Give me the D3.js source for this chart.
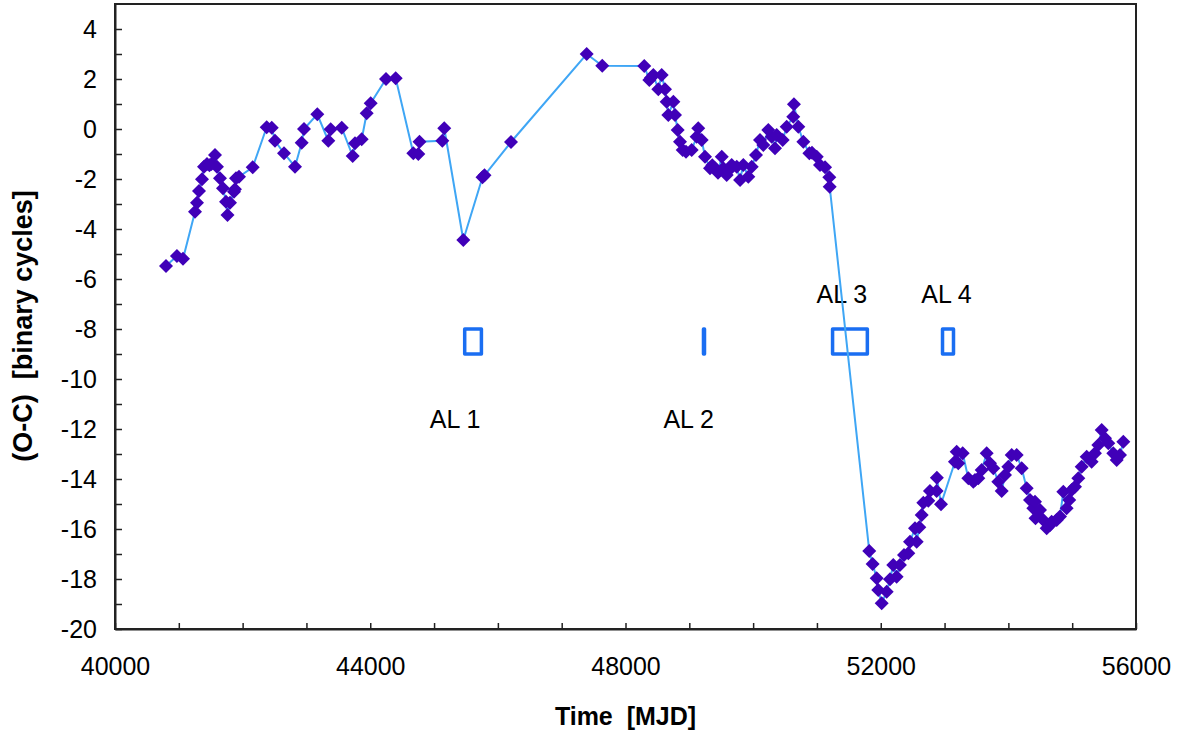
<!DOCTYPE html>
<html>
<head>
<meta charset="utf-8">
<script src="https://cdn.jsdelivr.net/npm/d3@7"></script>
<style>
  body { margin: 0; background: #fff; }
  svg text { font-family: "Liberation Sans", Arial, sans-serif; }
</style>
</head>
<body>
<svg id="chart" width="1188" height="735"></svg>
<script>
// O-C timing residuals, MJD vs binary cycles
const mjd = [
  40799, 40971, 41066, 41254, 41285, 41316, 41363, 41395, 41442, 41480, 41512,
  41567, 41598, 41645, 41692, 41740, 41763, 41802, 41865, 41880, 41896,
  41943, 42158, 42377, 42456, 42507, 42648, 42821, 42926, 42962, 43170,
  43343, 43380, 43553, 43725, 43761, 43866, 43944, 44007, 44247, 44399,
  44675, 44753, 44772, 45129, 45160, 45458, 45759, 45790, 46206, 47392,
  47636, 48294, 48373, 48400, 48436, 48514, 48567, 48619, 48645, 48671,
  48750, 48776, 48818, 48854, 48896, 48948, 49037, 49115, 49140, 49194,
  49246, 49324, 49360, 49403, 49450, 49508, 49533, 49586, 49620, 49664, 49743, 49795, 49846,
  49925, 49978, 50045, 50108, 50160, 50238, 50291, 50343, 50369, 50463,
  50526, 50629, 50640, 50708, 50787, 50881, 50923, 50997, 51048, 51127,
  51194, 51200, 51820, 51873, 51936, 51961, 52015, 52093, 52145, 52196,
  52249, 52301, 52364, 52432, 52458, 52537, 52563, 52604, 52642, 52667,
  52745, 52771, 52876, 52880, 52944, 53163, 53190, 53215, 53284, 53372,
  53451, 53477, 53529, 53582, 53660, 53712, 53764, 53842, 53895, 53947,
  53999, 54052, 54130, 54209, 54287, 54339, 54391, 54417, 54425, 54496,
  54547, 54600, 54650, 54678, 54757, 54809, 54861, 54913, 54954, 54992, 55044,
  55096, 55149, 55227, 55305, 55357, 55409, 55462, 55514, 55566, 55644,
  55697, 55749, 55801
];
const oc = [
  -5.48, -5.08, -5.19, -3.31, -2.95, -2.48, -2.01, -1.51, -1.40, -1.45, -1.40,
  -1.04, -1.51, -1.97, -2.37, -2.91, -3.44, -2.95, -2.51, -2.41, -1.97,
  -1.91, -1.53, 0.07, 0.05, -0.47, -0.97, -1.51, -0.55, 0.00, 0.59,
  -0.47, -0.01, 0.05, -1.08, -0.57, -0.41, 0.63, 1.03, 2.00, 2.03,
  -0.97, -1.00, -0.51, -0.47, 0.03, -4.44, -1.93, -1.85, -0.52, 3.00,
  2.53, 2.52, 1.96, 2.05, 2.16, 1.59, 2.16, 1.59, 1.09, 0.56,
  1.09, 0.56, -0.04, -0.51, -0.84, -0.91, -0.84, -0.31, 0.03, -0.44,
  -1.11, -1.57, -1.45, -1.57, -1.75, -1.11, -1.57, -1.84, -1.65, -1.44, -1.51, -2.04, -1.44,
  -1.91, -1.51, -1.04, -0.44, -0.64, -0.04, -0.31, -0.77, -0.24, -0.44,
  0.09, 0.49, 0.99, 0.09, -0.51, -0.97, -0.95, -1.11, -1.44, -1.53,
  -1.93, -2.31, -16.88, -17.40, -17.97, -18.44, -18.97, -18.51, -18.01, -17.44,
  -17.91, -17.44, -17.04, -16.97, -16.51, -15.97, -16.51, -15.93, -15.44, -14.95,
  -14.87, -14.48, -14.48, -13.95, -15.01, -13.31, -12.91, -13.37, -12.97, -13.97,
  -14.11, -14.04, -13.97, -13.64, -12.97, -13.37, -13.57, -14.11, -14.48, -13.84,
  -13.51, -13.04, -13.04, -13.57, -14.37, -14.84, -15.17, -14.91, -15.57, -15.24,
  -15.64, -15.97, -15.85, -15.71, -15.64, -15.50, -14.51, -15.17, -14.84, -14.44, -14.31,
  -13.97, -13.51, -13.11, -13.31, -12.97, -12.64, -12.04, -12.37, -12.57, -12.97,
  -13.24, -13.04, -12.51
];

// observing windows (AL 1..4)
const alNames = ["AL 1", "AL 2", "AL 3", "AL 4"];
const alStart = [45480, 49222, 51245, 52968];
const alEnd = [45742, 49238, 51790, 53140];
const alLow = -9, alHigh = -8;
const alLabelX = [45330, 48990, 51390, 53030];
const alLabelY = [-11.95, -11.95, -6.95, -6.95];

const xTicks = d3.range(40000, 56001, 1000);
const yTicks = d3.range(-20, 5, 1);

const svg = d3.select("#chart");
const mLeft = 115, mRight = 1136, mTop = 4, mBottom = 629;

const x = d3.scaleLinear().domain([40000, 56000]).range([mLeft, mRight]);
const y = d3.scaleLinear().domain([-20, 5]).range([mBottom, mTop]);

const pts = mjd.map((d, i) => ({ t: d, v: oc[i] }));

// frame
svg.append("rect")
  .attr("x", mLeft).attr("y", mTop)
  .attr("width", mRight - mLeft).attr("height", mBottom - mTop)
  .attr("fill", "none").attr("stroke", "#222").attr("stroke-width", 2);

// axes
const xAxis = svg.append("g")
  .attr("transform", "translate(0," + mBottom + ")")
  .call(d3.axisBottom(x)
    .tickValues(xTicks)
    .tickSize(-6).tickSizeOuter(0).tickPadding(28)
    .tickFormat(d => d % 4000 === 0 ? d : ""));
const yAxis = svg.append("g")
  .attr("transform", "translate(" + mLeft + ",0)")
  .call(d3.axisLeft(y)
    .tickValues(yTicks)
    .tickSize(-7).tickSizeOuter(0).tickPadding(18)
    .tickFormat(d => d % 2 === 0 ? String(d) : ""));

[xAxis, yAxis].forEach(g => {
  g.select(".domain").attr("stroke", "#222").attr("stroke-width", 2);
  g.selectAll(".tick line").attr("stroke", "#222").attr("stroke-width", 1.5);
  g.selectAll(".tick text").attr("fill", "#000").style("font-size", "25px");
});

// AL boxes
svg.append("g").selectAll("rect")
  .data(alNames)
  .join("rect")
  .attr("x", (d, i) => x(alStart[i]))
  .attr("y", y(alHigh))
  .attr("width", (d, i) => x(alEnd[i]) - x(alStart[i]))
  .attr("height", y(alLow) - y(alHigh))
  .attr("fill", "none")
  .attr("stroke", "#1a6ef2")
  .attr("stroke-width", 3.5)
  .attr("stroke-linejoin", "round");

svg.append("g").selectAll("text")
  .data(alNames)
  .join("text")
  .attr("x", (d, i) => x(alLabelX[i]))
  .attr("y", (d, i) => y(alLabelY[i]))
  .attr("text-anchor", "middle")
  .style("font-size", "25px")
  .text(d => d);

// line
svg.append("path")
  .datum(pts)
  .attr("fill", "none")
  .attr("stroke", "#3fa6f5")
  .attr("stroke-width", 2)
  .attr("d", d3.line().x(d => x(d.t)).y(d => y(d.v)));

// diamonds
svg.append("g").selectAll("path")
  .data(pts)
  .join("path")
  .attr("transform", d => "translate(" + x(d.t) + "," + y(d.v) + ")")
  .attr("d", "M0,-7L7,0L0,7L-7,0Z")
  .attr("fill", "#4000b8");

// axis titles
svg.append("text")
  .attr("x", (mLeft + mRight) / 2)
  .attr("y", 725)
  .attr("text-anchor", "middle")
  .attr("xml:space", "preserve")
  .style("font-size", "25px")
  .style("font-weight", "bold")
  .text("Time  [MJD]");

svg.append("text")
  .attr("transform", "translate(32,326) rotate(-90)")
  .attr("text-anchor", "middle")
  .attr("xml:space", "preserve")
  .style("font-size", "27px")
  .style("font-weight", "bold")
  .text("(O-C)  [binary cycles]");
</script>
</body>
</html>
